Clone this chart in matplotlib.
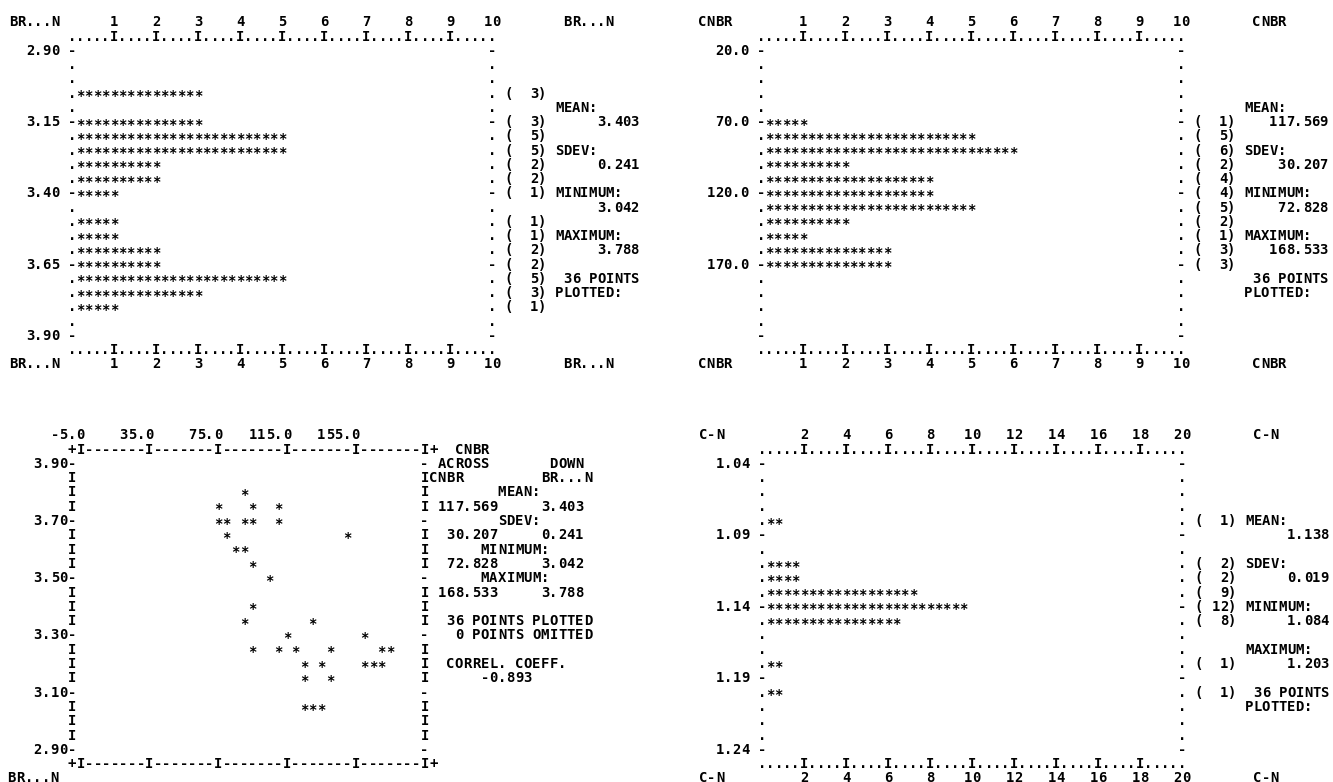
import matplotlib
matplotlib.use('Agg')
import matplotlib.pyplot as plt

# BR...N frequency histogram (top left)
brn_bins = [3.05, 3.15, 3.20, 3.25, 3.30, 3.35, 3.40, 3.50, 3.55, 3.60, 3.65, 3.70, 3.75, 3.80]
brn_counts = [3, 3, 5, 5, 2, 2, 1, 1, 1, 2, 2, 5, 3, 1]
brn_yticks = [2.90, 3.15, 3.40, 3.65, 3.90]
brn_stats = ['3.403', '0.241', '3.042', '3.788']

# CNBR frequency histogram (top right)
cnbr_bins = [70, 80, 90, 100, 110, 120, 130, 140, 150, 160, 170]
cnbr_counts = [1, 5, 6, 2, 4, 4, 5, 2, 1, 3, 3]
cnbr_yticks = [20.0, 70.0, 120.0, 170.0]
cnbr_stats = ['117.569', '30.207', '72.828', '168.533']

# C-N frequency histogram (bottom right)
cn_bins = [1.08, 1.11, 1.12, 1.13, 1.14, 1.15, 1.18, 1.20]
cn_counts = [1, 2, 2, 9, 12, 8, 1, 1]
cn_yticks = [1.04, 1.09, 1.14, 1.19, 1.24]
cn_stats = ['1.138', '0.019', '1.084', '1.203']

freq_ticks_10 = [1, 2, 3, 4, 5, 6, 7, 8, 9, 10]
freq_ticks_20 = [2, 4, 6, 8, 10, 12, 14, 16, 18, 20]

# scatter: CNBR across, BR...N down (bottom left)
scat_cnbr = [90,
             75, 95, 110,
             75, 80, 90, 95, 110,
             80, 150,
             85, 90,
             95,
             105,
             95,
             90, 130,
             115, 160,
             95, 110, 120, 140, 170, 175,
             125, 135, 160, 165, 170,
             125, 140,
             125, 130, 135]
scat_brn = [3.80,
            3.75, 3.75, 3.75,
            3.70, 3.70, 3.70, 3.70, 3.70,
            3.65, 3.65,
            3.60, 3.60,
            3.55,
            3.50,
            3.40,
            3.35, 3.35,
            3.30, 3.30,
            3.25, 3.25, 3.25, 3.25, 3.25, 3.25,
            3.20, 3.20, 3.20, 3.20, 3.20,
            3.15, 3.15,
            3.05, 3.05, 3.05]
scat_xticks = [-5.0, 35.0, 75.0, 115.0, 155.0]
scat_yticks = [3.90, 3.70, 3.50, 3.30, 3.10, 2.90]
n_points = 36
n_omitted = 0
correl = '-0.893'

W, H = 1333, 782
FONT = dict(family='DejaVu Sans Mono', fontsize=10, fontweight='bold', color='black')
BASE = 0.34   # baseline below row centre (rows)
STAR = 0.52   # '*' baseline below row centre (rows)


def panel(fig, x0, y0, cw, rh, xa, xb, ya, yb):
    # one printer page: col c -> xa + xb*c, row r -> ya + yb*r
    left, right = x0 - 0.5 * cw, x0 + 50.5 * cw
    top, bot = y0 - 0.5 * rh, y0 + 20.5 * rh
    ax = fig.add_axes([left / W, 1 - bot / H, (right - left) / W, (bot - top) / H])
    ax.set_xlim(xa - 0.5 * xb, xa + 50.5 * xb)
    ax.set_ylim(ya + 20.5 * yb, ya - 0.5 * yb)
    ax.axis('off')
    return dict(ax=ax, xa=xa, xb=xb, ya=ya, yb=yb)


def put(p, col, row, s, align='left'):
    if align == 'right':
        col -= len(s) - 1
    elif align == 'center':
        col -= (len(s) - 1) / 2
    for i, ch in enumerate(s):
        if ch != ' ':
            p['ax'].text(p['xa'] + p['xb'] * (col + i), p['ya'] + p['yb'] * (row + BASE), ch,
                         ha='center', va='baseline', **FONT)


def star(p, x, y):
    p['ax'].text(x, y + p['yb'] * STAR, '*', ha='center', va='baseline', **FONT)


def hist_panel(p, name, bins, counts, per_count, xlabels, yticks, yfmt, stats):
    for r in (-2, 22):
        put(p, -7, r, name)
        put(p, 59, r, name)
        for k, lab in enumerate(xlabels):
            put(p, 5 * (k + 1), r, str(lab), 'center')
    axis = ''.join('I' if c % 5 == 0 and 0 < c < 50 else '.' for c in range(51))
    put(p, 0, -1, axis)
    put(p, 0, 21, axis)
    for r in range(21):
        m = '-' if r % 5 == 0 else '.'
        put(p, 0, r, m)
        put(p, 50, r, m)
    for k, v in enumerate(yticks):
        put(p, -2, 5 * k, yfmt % v, 'right')
    for v, n in zip(bins, counts):
        for j in range(1, per_count * n + 1):
            star(p, p['xa'] + p['xb'] * j, v)
        row = round((v - p['ya']) / p['yb'])
        put(p, 52, row, '(%3d)' % n)
    for k, lab in enumerate(['MEAN:', 'SDEV:', 'MINIMUM:', 'MAXIMUM:']):
        put(p, 58, 4 + 3 * k, lab)
        put(p, 67, 5 + 3 * k, stats[k], 'right')
    put(p, 67, 16, '%d POINTS' % n_points, 'right')
    put(p, 58, 17, 'PLOTTED:')


def scatter_panel(p):
    axis = '+' + ''.join('I' if (c - 1) % 8 == 0 else '-' for c in range(1, 42)) + '+'
    put(p, 0, -1, axis)
    put(p, 0, 21, axis)
    for v in scat_xticks:
        put(p, (v - p['xa']) / p['xb'], -2, '%.1f' % v, 'right')
    for r in range(21):
        m = '-' if r % 4 == 0 else 'I'
        put(p, 0, r, m)
        put(p, 41, r, m)
    for v in scat_yticks:
        put(p, -1, (v - p['ya']) / p['yb'], '%.2f' % v, 'right')
    for x, y in zip(scat_cnbr, scat_brn):
        star(p, x, y)

    put(p, 45, -1, 'CNBR')
    put(p, 43, 0, 'ACROSS')
    put(p, 56, 0, 'DOWN')
    put(p, 42, 1, 'CNBR')
    put(p, 55, 1, 'BR...N')
    label_cols = [50, 50, 48, 48]
    for k, lab in enumerate(['MEAN:', 'SDEV:', 'MINIMUM:', 'MAXIMUM:']):
        put(p, label_cols[k], 2 + 2 * k, lab)
        put(p, 49, 3 + 2 * k, cnbr_stats[k], 'right')
        put(p, 59, 3 + 2 * k, brn_stats[k], 'right')
    put(p, 60, 11, '%d POINTS PLOTTED' % n_points, 'right')
    put(p, 60, 12, '%d POINTS OMITTED' % n_omitted, 'right')
    put(p, 44, 14, 'CORREL. COEFF.')
    put(p, 53, 15, correl, 'right')
    put(p, -7, 22, 'BR...N')


fig = plt.figure(figsize=(W / 100, H / 100), dpi=100)
fig.patch.set_facecolor('white')

p_tl = panel(fig, 72, 50, 8.4, 14.25, 0, 0.2, 2.90, 0.05)
hist_panel(p_tl, 'BR...N', brn_bins, brn_counts, 5, freq_ticks_10, brn_yticks, '%.2f', brn_stats)

p_tr = panel(fig, 761, 50, 8.4, 14.25, 0, 0.2, 20.0, 10.0)
hist_panel(p_tr, 'CNBR', cnbr_bins, cnbr_counts, 5, freq_ticks_10, cnbr_yticks, '%.1f', cnbr_stats)

p_br = panel(fig, 762, 463, 8.4, 14.3, 0, 0.4, 1.04, 0.01)
hist_panel(p_br, 'C-N', cn_bins, cn_counts, 2, freq_ticks_20, cn_yticks, '%.2f', cn_stats)

p_bl = panel(fig, 72, 463, 8.6, 14.3, -10, 5, 3.90, -0.05)
scatter_panel(p_bl)

fig.savefig('out.png', dpi=100)
